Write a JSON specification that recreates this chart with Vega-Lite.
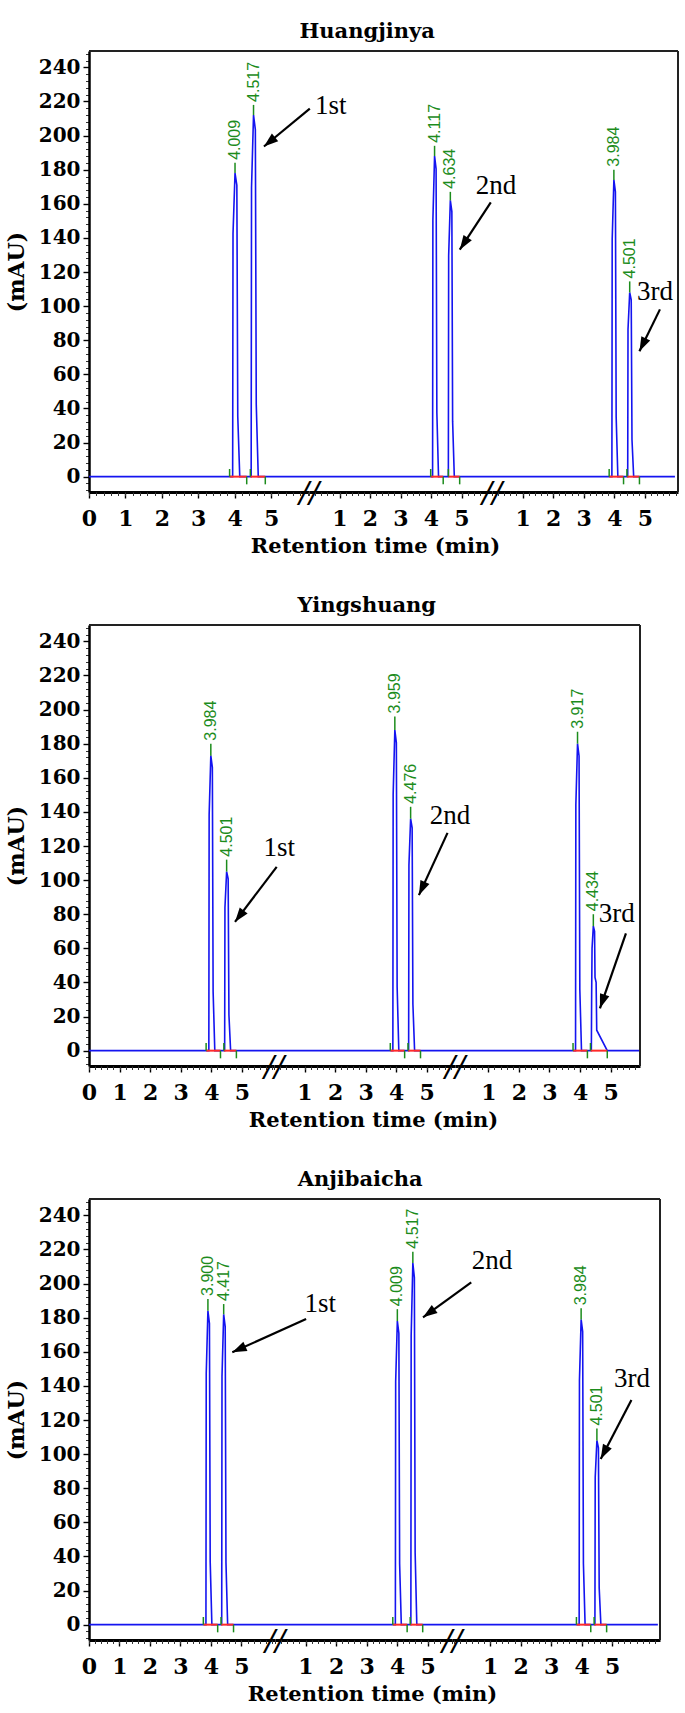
{
"$schema": "https://vega.github.io/schema/vega-lite/v6.json",
"background": "white",
"padding": {"left": 5, "top": 21, "right": 0, "bottom": 5},
"config": {"view": {"stroke": null}, "axis": {"grid": false}},
"datasets": {
"line": [
{"p":1,"s":1,"t":0,"v":0},{"p":1,"s":1,"t":3.944,"v":0},{"p":1,"s":1,"t":3.954,"v":142.4},{"p":1,"s":1,"t":4.009,"v":178},{"p":1,"s":1,"t":4.059,"v":170.9},{"p":1,"s":1,"t":4.084,"v":35.6},{"p":1,"s":1,"t":4.139,"v":0},{"p":1,"s":1,"t":4.452,"v":0},{"p":1,"s":1,"t":4.462,"v":169.6},{"p":1,"s":1,"t":4.517,"v":212},{"p":1,"s":1,"t":4.567,"v":203.5},{"p":1,"s":1,"t":4.592,"v":42.4},{"p":1,"s":1,"t":4.647,"v":0},{"p":1,"s":1,"t":6.04,"v":0},
{"p":1,"s":2,"t":0,"v":0},{"p":1,"s":2,"t":4.052,"v":0},{"p":1,"s":2,"t":4.062,"v":150.4},{"p":1,"s":2,"t":4.117,"v":188},{"p":1,"s":2,"t":4.167,"v":180.5},{"p":1,"s":2,"t":4.192,"v":37.6},{"p":1,"s":2,"t":4.247,"v":0},{"p":1,"s":2,"t":4.569,"v":0},{"p":1,"s":2,"t":4.579,"v":129.6},{"p":1,"s":2,"t":4.634,"v":162},{"p":1,"s":2,"t":4.684,"v":155.5},{"p":1,"s":2,"t":4.709,"v":32.4},{"p":1,"s":2,"t":4.764,"v":0},{"p":1,"s":2,"t":6.0,"v":0},
{"p":1,"s":3,"t":0,"v":0},{"p":1,"s":3,"t":3.919,"v":0},{"p":1,"s":3,"t":3.929,"v":139.2},{"p":1,"s":3,"t":3.984,"v":174},{"p":1,"s":3,"t":4.034,"v":167},{"p":1,"s":3,"t":4.059,"v":34.8},{"p":1,"s":3,"t":4.114,"v":0},{"p":1,"s":3,"t":4.436,"v":0},{"p":1,"s":3,"t":4.446,"v":86.4},{"p":1,"s":3,"t":4.501,"v":108},{"p":1,"s":3,"t":4.551,"v":103.7},{"p":1,"s":3,"t":4.576,"v":21.6},{"p":1,"s":3,"t":4.631,"v":0},{"p":1,"s":3,"t":5.98,"v":0},
{"p":2,"s":1,"t":0,"v":0},{"p":2,"s":1,"t":3.919,"v":0},{"p":2,"s":1,"t":3.929,"v":138.4},{"p":2,"s":1,"t":3.984,"v":173},{"p":2,"s":1,"t":4.034,"v":166.1},{"p":2,"s":1,"t":4.059,"v":34.6},{"p":2,"s":1,"t":4.114,"v":0},{"p":2,"s":1,"t":4.436,"v":0},{"p":2,"s":1,"t":4.446,"v":84},{"p":2,"s":1,"t":4.501,"v":105},{"p":2,"s":1,"t":4.551,"v":100.8},{"p":2,"s":1,"t":4.576,"v":21},{"p":2,"s":1,"t":4.631,"v":0},{"p":2,"s":1,"t":6.05,"v":0},
{"p":2,"s":2,"t":0,"v":0},{"p":2,"s":2,"t":3.894,"v":0},{"p":2,"s":2,"t":3.904,"v":150.4},{"p":2,"s":2,"t":3.959,"v":188},{"p":2,"s":2,"t":4.009,"v":180.5},{"p":2,"s":2,"t":4.034,"v":37.6},{"p":2,"s":2,"t":4.089,"v":0},{"p":2,"s":2,"t":4.411,"v":0},{"p":2,"s":2,"t":4.421,"v":108.8},{"p":2,"s":2,"t":4.476,"v":136},{"p":2,"s":2,"t":4.526,"v":130.6},{"p":2,"s":2,"t":4.551,"v":27.2},{"p":2,"s":2,"t":4.606,"v":0},{"p":2,"s":2,"t":5.93,"v":0},
{"p":2,"s":3,"t":-0.09,"v":0},{"p":2,"s":3,"t":3.852,"v":0},{"p":2,"s":3,"t":3.862,"v":144},{"p":2,"s":3,"t":3.917,"v":180},{"p":2,"s":3,"t":3.967,"v":172.8},{"p":2,"s":3,"t":3.992,"v":36},{"p":2,"s":3,"t":4.047,"v":0},{"p":2,"s":3,"t":4.369,"v":0},{"p":2,"s":3,"t":4.379,"v":33},{"p":2,"s":3,"t":4.392,"v":60},{"p":2,"s":3,"t":4.434,"v":73},{"p":2,"s":3,"t":4.474,"v":70},{"p":2,"s":3,"t":4.489,"v":43},{"p":2,"s":3,"t":4.525,"v":40},{"p":2,"s":3,"t":4.545,"v":12},{"p":2,"s":3,"t":4.89,"v":0},{"p":2,"s":3,"t":5.93,"v":0},
{"p":3,"s":1,"t":0,"v":0},{"p":3,"s":1,"t":3.835,"v":0},{"p":3,"s":1,"t":3.845,"v":147.2},{"p":3,"s":1,"t":3.9,"v":184},{"p":3,"s":1,"t":3.95,"v":176.6},{"p":3,"s":1,"t":3.975,"v":36.8},{"p":3,"s":1,"t":4.03,"v":0},{"p":3,"s":1,"t":4.352,"v":0},{"p":3,"s":1,"t":4.362,"v":145.6},{"p":3,"s":1,"t":4.417,"v":182},{"p":3,"s":1,"t":4.467,"v":174.7},{"p":3,"s":1,"t":4.492,"v":36.4},{"p":3,"s":1,"t":4.547,"v":0},{"p":3,"s":1,"t":6.1,"v":0},
{"p":3,"s":2,"t":0,"v":0},{"p":3,"s":2,"t":3.944,"v":0},{"p":3,"s":2,"t":3.954,"v":142.4},{"p":3,"s":2,"t":4.009,"v":178},{"p":3,"s":2,"t":4.059,"v":170.9},{"p":3,"s":2,"t":4.084,"v":35.6},{"p":3,"s":2,"t":4.139,"v":0},{"p":3,"s":2,"t":4.452,"v":0},{"p":3,"s":2,"t":4.462,"v":169.6},{"p":3,"s":2,"t":4.517,"v":212},{"p":3,"s":2,"t":4.567,"v":203.5},{"p":3,"s":2,"t":4.592,"v":42.4},{"p":3,"s":2,"t":4.647,"v":0},{"p":3,"s":2,"t":5.8,"v":0},
{"p":3,"s":3,"t":-0.25,"v":0},{"p":3,"s":3,"t":3.919,"v":0},{"p":3,"s":3,"t":3.929,"v":143.2},{"p":3,"s":3,"t":3.984,"v":179},{"p":3,"s":3,"t":4.034,"v":171.8},{"p":3,"s":3,"t":4.059,"v":35.8},{"p":3,"s":3,"t":4.114,"v":0},{"p":3,"s":3,"t":4.436,"v":0},{"p":3,"s":3,"t":4.446,"v":86.4},{"p":3,"s":3,"t":4.501,"v":108},{"p":3,"s":3,"t":4.551,"v":103.7},{"p":3,"s":3,"t":4.576,"v":21.6},{"p":3,"s":3,"t":4.631,"v":0},{"p":3,"s":3,"t":6.5,"v":0}
],
"peaks": [
{"p":1,"s":1,"t":4.009,"h":178,"g":184,"lab":"4.009"},{"p":1,"s":1,"t":4.517,"h":212,"g":218,"lab":"4.517"},
{"p":1,"s":2,"t":4.117,"h":188,"g":194,"lab":"4.117"},{"p":1,"s":2,"t":4.634,"h":162,"g":167,"lab":"4.634"},
{"p":1,"s":3,"t":3.984,"h":174,"g":180,"lab":"3.984"},{"p":1,"s":3,"t":4.501,"h":108,"g":114.5,"lab":"4.501"},
{"p":2,"s":1,"t":3.984,"h":173,"g":180,"lab":"3.984"},{"p":2,"s":1,"t":4.501,"h":105,"g":112,"lab":"4.501"},
{"p":2,"s":2,"t":3.959,"h":188,"g":196,"lab":"3.959"},{"p":2,"s":2,"t":4.476,"h":136,"g":143,"lab":"4.476"},
{"p":2,"s":3,"t":3.917,"h":180,"g":187,"lab":"3.917"},{"p":2,"s":3,"t":4.434,"h":73,"g":80,"lab":"4.434"},
{"p":3,"s":1,"t":3.9,"h":184,"g":191,"lab":"3.900"},{"p":3,"s":1,"t":4.417,"h":182,"g":188,"lab":"4.417"},
{"p":3,"s":2,"t":4.009,"h":178,"g":185,"lab":"4.009"},{"p":3,"s":2,"t":4.517,"h":212,"g":218.7,"lab":"4.517"},
{"p":3,"s":3,"t":3.984,"h":179,"g":185.5,"lab":"3.984"},{"p":3,"s":3,"t":4.501,"h":108,"g":115,"lab":"4.501"}
],
"integ": [
{"p":1,"s":1,"a":3.86,"b":4.33},{"p":1,"s":1,"a":4.43,"b":4.84},
{"p":1,"s":2,"a":3.99,"b":4.4},{"p":1,"s":2,"a":4.57,"b":4.94},
{"p":1,"s":3,"a":3.83,"b":4.3},{"p":1,"s":3,"a":4.41,"b":4.82},
{"p":2,"s":1,"a":3.83,"b":4.3},{"p":2,"s":1,"a":4.41,"b":4.82},
{"p":2,"s":2,"a":3.81,"b":4.28},{"p":2,"s":2,"a":4.39,"b":4.8},
{"p":2,"s":3,"a":3.77,"b":4.24},{"p":2,"s":3,"a":4.34,"b":4.89},
{"p":3,"s":1,"a":3.75,"b":4.22},{"p":3,"s":1,"a":4.33,"b":4.74},
{"p":3,"s":2,"a":3.86,"b":4.33},{"p":3,"s":2,"a":4.43,"b":4.84},
{"p":3,"s":3,"a":3.83,"b":4.3},{"p":3,"s":3,"a":4.41,"b":4.82}
],
"notes": [
{"p":1,"s":1,"x1":6.063,"y1":215.8,"x2":4.803,"y2":193.6,"tx":6.64,"ty":217.6,"lab":"1st"},
{"p":1,"s":2,"x1":5.96,"y1":160.8,"x2":4.944,"y2":133.1,"tx":6.13,"ty":170.7,"lab":"2nd"},
{"p":1,"s":3,"x1":5.49,"y1":98.1,"x2":4.82,"y2":73.5,"tx":5.33,"ty":108.1,"lab":"3rd"},
{"p":2,"s":1,"x1":6.138,"y1":107.8,"x2":4.774,"y2":75.5,"tx":6.22,"ty":118.7,"lab":"1st"},
{"p":2,"s":2,"x1":5.685,"y1":127.7,"x2":4.748,"y2":91.2,"tx":5.763,"ty":137.5,"lab":"2nd"},
{"p":2,"s":3,"x1":5.5,"y1":68.8,"x2":4.65,"y2":24.8,"tx":5.196,"ty":80.1,"lab":"3rd"},
{"p":3,"s":1,"x1":7.12,"y1":179.2,"x2":4.7,"y2":159.7,"tx":7.58,"ty":188.1,"lab":"1st"},
{"p":3,"s":2,"x1":6.43,"y1":200.7,"x2":4.85,"y2":180.2,"tx":7.11,"ty":213,"lab":"2nd"},
{"p":3,"s":3,"x1":5.633,"y1":131.8,"x2":4.626,"y2":97.2,"tx":5.65,"ty":143.9,"lab":"3rd"}
]
},
"spacing": 39,
"vconcat": [
{"title": {"text": "Huangjinya", "font": "DejaVu Serif", "fontSize": 21, "fontWeight": "bold", "color": "black", "anchor": "middle", "frame": "bounds", "dx": 25, "offset": 8},
 "spacing": 0, "bounds": "flush",
 "hconcat": [
 {"width": 220, "height": 441, "resolve": {"axis": {"x": "independent", "y": "independent"}}, "layer": [
  {"data": {"values": [{}]}, "mark": {"type": "rule", "color": "#222222", "strokeWidth": 2}, "encoding": {"y": {"datum": 249.6, "type": "quantitative", "axis": {"orient": "left", "values": [-8,-4,0,4,8,12,16,20,24,28,32,36,40,44,48,52,56,60,64,68,72,76,80,84,88,92,96,100,104,108,112,116,120,124,128,132,136,140,144,148,152,156,160,164,168,172,176,180,184,188,192,196,200,204,208,212,216,220,224,228,232,236,240,244,248], "labels": false, "domain": false, "ticks": true, "tickSize": 3.5, "tickColor": "#333333", "tickWidth": 1, "title": null, "grid": false}}}},
  {"data": {"name": "line"}, "transform": [{"filter": "datum.p==1&&datum.s==1"}], "mark": {"type": "line", "color": "#1414f0", "strokeWidth": 1.6},
   "encoding": {"x": {"field": "t", "type": "quantitative", "scale": {"domain": [0, 6.04], "nice": false, "zero": false},
     "axis": {"orient": "bottom", "values": [0,1,2,3,4,5], "format": "d", "title": null, "domainColor": "black", "domainWidth": 3, "tickColor": "black", "tickWidth": 1.4, "tickSize": 6, "labelFont": "DejaVu Serif", "labelFontSize": 22, "labelFontWeight": "bold", "labelColor": "black", "labelPadding": 10, "labelFlush": false, "labelOverlap": false, "grid": false}},
    "y": {"field": "v", "type": "quantitative", "scale": {"domain": [-9, 249.6], "nice": false, "zero": false},
     "axis": {"orient": "left", "values": [0,20,40,60,80,100,120,140,160,180,200,220,240], "format": "d", "title": "(mAU)", "titleFont": "DejaVu Serif", "titleFontSize": 22, "titleFontWeight": "bold", "titleColor": "black", "titlePadding": 10, "domainColor": "black", "domainWidth": 2.5, "tickColor": "black", "tickWidth": 1.4, "tickSize": 6, "labelFont": "DejaVu Serif", "labelFontSize": 20, "labelFontWeight": "bold", "labelColor": "black", "labelPadding": 3, "labelOverlap": false, "labelFlush": false, "grid": false}}}},
  {"data": {"name": "integ"}, "transform": [{"filter": "datum.p==1&&datum.s==1"}], "mark": {"type": "rule", "color": "#ff2a2a", "strokeWidth": 2}, "encoding": {"x": {"field": "a", "type": "quantitative", "axis": {"orient": "bottom", "values": [0,0.2,0.4,0.6,0.8,1,1.2,1.4,1.6,1.8,2,2.2,2.4,2.6,2.8,3,3.2,3.4,3.6,3.8,4,4.2,4.4,4.6,4.8,5,5.2,5.4,5.6,5.8,6], "labels": false, "domain": false, "ticks": true, "tickSize": 3.5, "tickColor": "#333333", "tickWidth": 1, "title": null, "grid": false}}, "x2": {"field": "b"}, "y": {"datum": 0, "type": "quantitative", "axis": null}}},
  {"data": {"name": "integ"}, "transform": [{"filter": "datum.p==1&&datum.s==1"}], "mark": {"type": "rule", "color": "#1c8c1c", "strokeWidth": 1.5}, "encoding": {"x": {"field": "a", "type": "quantitative", "axis": null}, "y": {"datum": 0, "type": "quantitative", "axis": null}, "y2": {"datum": 4.5}}},
  {"data": {"name": "integ"}, "transform": [{"filter": "datum.p==1&&datum.s==1"}], "mark": {"type": "rule", "color": "#1c8c1c", "strokeWidth": 1.5}, "encoding": {"x": {"field": "b", "type": "quantitative", "axis": null}, "y": {"datum": 0, "type": "quantitative", "axis": null}, "y2": {"datum": -4.5}}},
  {"data": {"name": "peaks"}, "transform": [{"filter": "datum.p==1&&datum.s==1"}], "mark": {"type": "rule", "color": "#1c8c1c", "strokeWidth": 1.5}, "encoding": {"x": {"field": "t", "type": "quantitative", "axis": null}, "y": {"field": "h", "type": "quantitative", "axis": null}, "y2": {"field": "g"}}},
  {"data": {"name": "peaks"}, "transform": [{"filter": "datum.p==1&&datum.s==1"}], "mark": {"type": "text", "angle": 270, "align": "left", "baseline": "middle", "dx": 3, "font": "Liberation Sans", "fontSize": 16, "color": "#1c8c1c"}, "encoding": {"x": {"field": "t", "type": "quantitative", "axis": null}, "y": {"field": "g", "type": "quantitative", "axis": null}, "text": {"field": "lab"}}},
  {"data": {"name": "notes"}, "transform": [{"filter": "datum.p==1&&datum.s==1"}], "mark": {"type": "rule", "color": "black", "strokeWidth": 2.2}, "encoding": {"x": {"field": "x1", "type": "quantitative", "axis": null}, "y": {"field": "y1", "type": "quantitative", "axis": null}, "x2": {"field": "x2"}, "y2": {"field": "y2"}}},
  {"data": {"name": "notes"}, "transform": [{"filter": "datum.p==1&&datum.s==1"}], "mark": {"type": "point", "shape": "M0,0L-0.55,1.6L0.55,1.6Z", "filled": true, "color": "black", "opacity": 1, "size": 324, "angle": 230.4}, "encoding": {"x": {"field": "x2", "type": "quantitative", "axis": null}, "y": {"field": "y2", "type": "quantitative", "axis": null}}},
  {"data": {"name": "notes"}, "transform": [{"filter": "datum.p==1&&datum.s==1"}], "mark": {"type": "text", "font": "Liberation Serif", "fontSize": 27, "align": "center", "baseline": "middle", "color": "black"}, "encoding": {"x": {"field": "tx", "type": "quantitative", "axis": null}, "y": {"field": "ty", "type": "quantitative", "axis": null}, "text": {"field": "lab"}}},
  {"data": {"values": [{}]}, "mark": {"type": "text", "text": "//", "font": "Liberation Serif", "fontSize": 36, "fontWeight": "bold", "fontStyle": "italic", "align": "center", "baseline": "middle", "dy": 2, "color": "black"}, "encoding": {"x": {"datum": 6.04, "type": "quantitative", "axis": null}, "y": {"datum": -9, "type": "quantitative", "axis": null}}}
 ]},
 {"width": 183, "height": 441, "resolve": {"axis": {"x": "independent", "y": "independent"}}, "layer": [
  {"data": {"values": [{}]}, "mark": {"type": "rule", "color": "#222222", "strokeWidth": 2}, "encoding": {"y": {"datum": 249.6, "type": "quantitative", "axis": null}}},
  {"data": {"name": "line"}, "transform": [{"filter": "datum.p==1&&datum.s==2"}], "mark": {"type": "line", "color": "#1414f0", "strokeWidth": 1.6},
   "encoding": {"x": {"field": "t", "type": "quantitative", "scale": {"domain": [0, 6.0], "nice": false, "zero": false},
     "axis": {"orient": "bottom", "values": [1,2,3,4,5], "format": "d", "title": "Retention time (min)", "titleX": 66, "titleAlign": "center", "titleFont": "DejaVu Serif", "titleFontSize": 21, "titleFontWeight": "bold", "titleColor": "black", "titlePadding": 6, "domainColor": "black", "domainWidth": 3, "tickColor": "black", "tickWidth": 1.4, "tickSize": 6, "labelFont": "DejaVu Serif", "labelFontSize": 22, "labelFontWeight": "bold", "labelColor": "black", "labelPadding": 10, "labelFlush": false, "labelOverlap": false, "grid": false}},
    "y": {"field": "v", "type": "quantitative", "scale": {"domain": [-9, 249.6], "nice": false, "zero": false}, "axis": null}}},
  {"data": {"name": "integ"}, "transform": [{"filter": "datum.p==1&&datum.s==2"}], "mark": {"type": "rule", "color": "#ff2a2a", "strokeWidth": 2}, "encoding": {"x": {"field": "a", "type": "quantitative", "axis": {"orient": "bottom", "values": [0,0.2,0.4,0.6,0.8,1,1.2,1.4,1.6,1.8,2,2.2,2.4,2.6,2.8,3,3.2,3.4,3.6,3.8,4,4.2,4.4,4.6,4.8,5,5.2,5.4,5.6,5.8,6], "labels": false, "domain": false, "ticks": true, "tickSize": 3.5, "tickColor": "#333333", "tickWidth": 1, "title": null, "grid": false}}, "x2": {"field": "b"}, "y": {"datum": 0, "type": "quantitative", "axis": null}}},
  {"data": {"name": "integ"}, "transform": [{"filter": "datum.p==1&&datum.s==2"}], "mark": {"type": "rule", "color": "#1c8c1c", "strokeWidth": 1.5}, "encoding": {"x": {"field": "a", "type": "quantitative", "axis": null}, "y": {"datum": 0, "type": "quantitative", "axis": null}, "y2": {"datum": 4.5}}},
  {"data": {"name": "integ"}, "transform": [{"filter": "datum.p==1&&datum.s==2"}], "mark": {"type": "rule", "color": "#1c8c1c", "strokeWidth": 1.5}, "encoding": {"x": {"field": "b", "type": "quantitative", "axis": null}, "y": {"datum": 0, "type": "quantitative", "axis": null}, "y2": {"datum": -4.5}}},
  {"data": {"name": "peaks"}, "transform": [{"filter": "datum.p==1&&datum.s==2"}], "mark": {"type": "rule", "color": "#1c8c1c", "strokeWidth": 1.5}, "encoding": {"x": {"field": "t", "type": "quantitative", "axis": null}, "y": {"field": "h", "type": "quantitative", "axis": null}, "y2": {"field": "g"}}},
  {"data": {"name": "peaks"}, "transform": [{"filter": "datum.p==1&&datum.s==2"}], "mark": {"type": "text", "angle": 270, "align": "left", "baseline": "middle", "dx": 3, "font": "Liberation Sans", "fontSize": 16, "color": "#1c8c1c"}, "encoding": {"x": {"field": "t", "type": "quantitative", "axis": null}, "y": {"field": "g", "type": "quantitative", "axis": null}, "text": {"field": "lab"}}},
  {"data": {"name": "notes"}, "transform": [{"filter": "datum.p==1&&datum.s==2"}], "mark": {"type": "rule", "color": "black", "strokeWidth": 2.2}, "encoding": {"x": {"field": "x1", "type": "quantitative", "axis": null}, "y": {"field": "y1", "type": "quantitative", "axis": null}, "x2": {"field": "x2"}, "y2": {"field": "y2"}}},
  {"data": {"name": "notes"}, "transform": [{"filter": "datum.p==1&&datum.s==2"}], "mark": {"type": "point", "shape": "M0,0L-0.55,1.6L0.55,1.6Z", "filled": true, "color": "black", "opacity": 1, "size": 324, "angle": 213.2}, "encoding": {"x": {"field": "x2", "type": "quantitative", "axis": null}, "y": {"field": "y2", "type": "quantitative", "axis": null}}},
  {"data": {"name": "notes"}, "transform": [{"filter": "datum.p==1&&datum.s==2"}], "mark": {"type": "text", "font": "Liberation Serif", "fontSize": 27, "align": "center", "baseline": "middle", "color": "black"}, "encoding": {"x": {"field": "tx", "type": "quantitative", "axis": null}, "y": {"field": "ty", "type": "quantitative", "axis": null}, "text": {"field": "lab"}}},
  {"data": {"values": [{}]}, "mark": {"type": "text", "text": "//", "font": "Liberation Serif", "fontSize": 36, "fontWeight": "bold", "fontStyle": "italic", "align": "center", "baseline": "middle", "dy": 2, "color": "black"}, "encoding": {"x": {"datum": 6.0, "type": "quantitative", "axis": null}, "y": {"datum": -9, "type": "quantitative", "axis": null}}}
 ]},
 {"width": 186, "height": 441, "resolve": {"axis": {"x": "independent", "y": "independent"}}, "layer": [
  {"data": {"values": [{}]}, "mark": {"type": "rule", "color": "#222222", "strokeWidth": 2}, "encoding": {"y": {"datum": 249.6, "type": "quantitative", "axis": null}}},
  {"data": {"values": [{}]}, "mark": {"type": "rule", "color": "#222222", "strokeWidth": 2}, "encoding": {"x": {"datum": 6.08, "type": "quantitative", "axis": null}}},
  {"data": {"name": "line"}, "transform": [{"filter": "datum.p==1&&datum.s==3"}], "mark": {"type": "line", "color": "#1414f0", "strokeWidth": 1.6},
   "encoding": {"x": {"field": "t", "type": "quantitative", "scale": {"domain": [0, 6.08], "nice": false, "zero": false},
     "axis": {"orient": "bottom", "values": [1,2,3,4,5], "format": "d", "title": null, "domainColor": "black", "domainWidth": 3, "tickColor": "black", "tickWidth": 1.4, "tickSize": 6, "labelFont": "DejaVu Serif", "labelFontSize": 22, "labelFontWeight": "bold", "labelColor": "black", "labelPadding": 10, "labelFlush": false, "labelOverlap": false, "grid": false}},
    "y": {"field": "v", "type": "quantitative", "scale": {"domain": [-9, 249.6], "nice": false, "zero": false}, "axis": null}}},
  {"data": {"name": "integ"}, "transform": [{"filter": "datum.p==1&&datum.s==3"}], "mark": {"type": "rule", "color": "#ff2a2a", "strokeWidth": 2}, "encoding": {"x": {"field": "a", "type": "quantitative", "axis": {"orient": "bottom", "values": [0,0.2,0.4,0.6,0.8,1,1.2,1.4,1.6,1.8,2,2.2,2.4,2.6,2.8,3,3.2,3.4,3.6,3.8,4,4.2,4.4,4.6,4.8,5,5.2,5.4,5.6,5.8,6], "labels": false, "domain": false, "ticks": true, "tickSize": 3.5, "tickColor": "#333333", "tickWidth": 1, "title": null, "grid": false}}, "x2": {"field": "b"}, "y": {"datum": 0, "type": "quantitative", "axis": null}}},
  {"data": {"name": "integ"}, "transform": [{"filter": "datum.p==1&&datum.s==3"}], "mark": {"type": "rule", "color": "#1c8c1c", "strokeWidth": 1.5}, "encoding": {"x": {"field": "a", "type": "quantitative", "axis": null}, "y": {"datum": 0, "type": "quantitative", "axis": null}, "y2": {"datum": 4.5}}},
  {"data": {"name": "integ"}, "transform": [{"filter": "datum.p==1&&datum.s==3"}], "mark": {"type": "rule", "color": "#1c8c1c", "strokeWidth": 1.5}, "encoding": {"x": {"field": "b", "type": "quantitative", "axis": null}, "y": {"datum": 0, "type": "quantitative", "axis": null}, "y2": {"datum": -4.5}}},
  {"data": {"name": "peaks"}, "transform": [{"filter": "datum.p==1&&datum.s==3"}], "mark": {"type": "rule", "color": "#1c8c1c", "strokeWidth": 1.5}, "encoding": {"x": {"field": "t", "type": "quantitative", "axis": null}, "y": {"field": "h", "type": "quantitative", "axis": null}, "y2": {"field": "g"}}},
  {"data": {"name": "peaks"}, "transform": [{"filter": "datum.p==1&&datum.s==3"}], "mark": {"type": "text", "angle": 270, "align": "left", "baseline": "middle", "dx": 3, "font": "Liberation Sans", "fontSize": 16, "color": "#1c8c1c"}, "encoding": {"x": {"field": "t", "type": "quantitative", "axis": null}, "y": {"field": "g", "type": "quantitative", "axis": null}, "text": {"field": "lab"}}},
  {"data": {"name": "notes"}, "transform": [{"filter": "datum.p==1&&datum.s==3"}], "mark": {"type": "rule", "color": "black", "strokeWidth": 2.2}, "encoding": {"x": {"field": "x1", "type": "quantitative", "axis": null}, "y": {"field": "y1", "type": "quantitative", "axis": null}, "x2": {"field": "x2"}, "y2": {"field": "y2"}}},
  {"data": {"name": "notes"}, "transform": [{"filter": "datum.p==1&&datum.s==3"}], "mark": {"type": "point", "shape": "M0,0L-0.55,1.6L0.55,1.6Z", "filled": true, "color": "black", "opacity": 1, "size": 324, "angle": 206}, "encoding": {"x": {"field": "x2", "type": "quantitative", "axis": null}, "y": {"field": "y2", "type": "quantitative", "axis": null}}},
  {"data": {"name": "notes"}, "transform": [{"filter": "datum.p==1&&datum.s==3"}], "mark": {"type": "text", "font": "Liberation Serif", "fontSize": 27, "align": "center", "baseline": "middle", "color": "black"}, "encoding": {"x": {"field": "tx", "type": "quantitative", "axis": null}, "y": {"field": "ty", "type": "quantitative", "axis": null}, "text": {"field": "lab"}}}
 ]}
 ]},
{"title": {"text": "Yingshuang", "font": "DejaVu Serif", "fontSize": 21, "fontWeight": "bold", "color": "black", "anchor": "middle", "frame": "bounds", "dx": 43, "offset": 8},
 "spacing": 0, "bounds": "flush",
 "hconcat": [
 {"width": 185, "height": 441, "resolve": {"axis": {"x": "independent", "y": "independent"}}, "layer": [
  {"data": {"values": [{}]}, "mark": {"type": "rule", "color": "#222222", "strokeWidth": 2}, "encoding": {"y": {"datum": 249.6, "type": "quantitative", "axis": {"orient": "left", "values": [-8,-4,0,4,8,12,16,20,24,28,32,36,40,44,48,52,56,60,64,68,72,76,80,84,88,92,96,100,104,108,112,116,120,124,128,132,136,140,144,148,152,156,160,164,168,172,176,180,184,188,192,196,200,204,208,212,216,220,224,228,232,236,240,244,248], "labels": false, "domain": false, "ticks": true, "tickSize": 3.5, "tickColor": "#333333", "tickWidth": 1, "title": null, "grid": false}}}},
  {"data": {"name": "line"}, "transform": [{"filter": "datum.p==2&&datum.s==1"}], "mark": {"type": "line", "color": "#1414f0", "strokeWidth": 1.6},
   "encoding": {"x": {"field": "t", "type": "quantitative", "scale": {"domain": [0, 6.05], "nice": false, "zero": false},
     "axis": {"orient": "bottom", "values": [0,1,2,3,4,5], "format": "d", "title": null, "domainColor": "black", "domainWidth": 3, "tickColor": "black", "tickWidth": 1.4, "tickSize": 6, "labelFont": "DejaVu Serif", "labelFontSize": 22, "labelFontWeight": "bold", "labelColor": "black", "labelPadding": 10, "labelFlush": false, "labelOverlap": false, "grid": false}},
    "y": {"field": "v", "type": "quantitative", "scale": {"domain": [-9, 249.6], "nice": false, "zero": false},
     "axis": {"orient": "left", "values": [0,20,40,60,80,100,120,140,160,180,200,220,240], "format": "d", "title": "(mAU)", "titleFont": "DejaVu Serif", "titleFontSize": 22, "titleFontWeight": "bold", "titleColor": "black", "titlePadding": 10, "domainColor": "black", "domainWidth": 2.5, "tickColor": "black", "tickWidth": 1.4, "tickSize": 6, "labelFont": "DejaVu Serif", "labelFontSize": 20, "labelFontWeight": "bold", "labelColor": "black", "labelPadding": 3, "labelOverlap": false, "labelFlush": false, "grid": false}}}},
  {"data": {"name": "integ"}, "transform": [{"filter": "datum.p==2&&datum.s==1"}], "mark": {"type": "rule", "color": "#ff2a2a", "strokeWidth": 2}, "encoding": {"x": {"field": "a", "type": "quantitative", "axis": {"orient": "bottom", "values": [0,0.2,0.4,0.6,0.8,1,1.2,1.4,1.6,1.8,2,2.2,2.4,2.6,2.8,3,3.2,3.4,3.6,3.8,4,4.2,4.4,4.6,4.8,5,5.2,5.4,5.6,5.8,6], "labels": false, "domain": false, "ticks": true, "tickSize": 3.5, "tickColor": "#333333", "tickWidth": 1, "title": null, "grid": false}}, "x2": {"field": "b"}, "y": {"datum": 0, "type": "quantitative", "axis": null}}},
  {"data": {"name": "integ"}, "transform": [{"filter": "datum.p==2&&datum.s==1"}], "mark": {"type": "rule", "color": "#1c8c1c", "strokeWidth": 1.5}, "encoding": {"x": {"field": "a", "type": "quantitative", "axis": null}, "y": {"datum": 0, "type": "quantitative", "axis": null}, "y2": {"datum": 4.5}}},
  {"data": {"name": "integ"}, "transform": [{"filter": "datum.p==2&&datum.s==1"}], "mark": {"type": "rule", "color": "#1c8c1c", "strokeWidth": 1.5}, "encoding": {"x": {"field": "b", "type": "quantitative", "axis": null}, "y": {"datum": 0, "type": "quantitative", "axis": null}, "y2": {"datum": -4.5}}},
  {"data": {"name": "peaks"}, "transform": [{"filter": "datum.p==2&&datum.s==1"}], "mark": {"type": "rule", "color": "#1c8c1c", "strokeWidth": 1.5}, "encoding": {"x": {"field": "t", "type": "quantitative", "axis": null}, "y": {"field": "h", "type": "quantitative", "axis": null}, "y2": {"field": "g"}}},
  {"data": {"name": "peaks"}, "transform": [{"filter": "datum.p==2&&datum.s==1"}], "mark": {"type": "text", "angle": 270, "align": "left", "baseline": "middle", "dx": 3, "font": "Liberation Sans", "fontSize": 16, "color": "#1c8c1c"}, "encoding": {"x": {"field": "t", "type": "quantitative", "axis": null}, "y": {"field": "g", "type": "quantitative", "axis": null}, "text": {"field": "lab"}}},
  {"data": {"name": "notes"}, "transform": [{"filter": "datum.p==2&&datum.s==1"}], "mark": {"type": "rule", "color": "black", "strokeWidth": 2.2}, "encoding": {"x": {"field": "x1", "type": "quantitative", "axis": null}, "y": {"field": "y1", "type": "quantitative", "axis": null}, "x2": {"field": "x2"}, "y2": {"field": "y2"}}},
  {"data": {"name": "notes"}, "transform": [{"filter": "datum.p==2&&datum.s==1"}], "mark": {"type": "point", "shape": "M0,0L-0.55,1.6L0.55,1.6Z", "filled": true, "color": "black", "opacity": 1, "size": 324, "angle": 217.2}, "encoding": {"x": {"field": "x2", "type": "quantitative", "axis": null}, "y": {"field": "y2", "type": "quantitative", "axis": null}}},
  {"data": {"name": "notes"}, "transform": [{"filter": "datum.p==2&&datum.s==1"}], "mark": {"type": "text", "font": "Liberation Serif", "fontSize": 27, "align": "center", "baseline": "middle", "color": "black"}, "encoding": {"x": {"field": "tx", "type": "quantitative", "axis": null}, "y": {"field": "ty", "type": "quantitative", "axis": null}, "text": {"field": "lab"}}},
  {"data": {"values": [{}]}, "mark": {"type": "text", "text": "//", "font": "Liberation Serif", "fontSize": 36, "fontWeight": "bold", "fontStyle": "italic", "align": "center", "baseline": "middle", "dy": 2, "color": "black"}, "encoding": {"x": {"datum": 6.05, "type": "quantitative", "axis": null}, "y": {"datum": -9, "type": "quantitative", "axis": null}}}
 ]},
 {"width": 181, "height": 441, "resolve": {"axis": {"x": "independent", "y": "independent"}}, "layer": [
  {"data": {"values": [{}]}, "mark": {"type": "rule", "color": "#222222", "strokeWidth": 2}, "encoding": {"y": {"datum": 249.6, "type": "quantitative", "axis": null}}},
  {"data": {"name": "line"}, "transform": [{"filter": "datum.p==2&&datum.s==2"}], "mark": {"type": "line", "color": "#1414f0", "strokeWidth": 1.6},
   "encoding": {"x": {"field": "t", "type": "quantitative", "scale": {"domain": [0, 5.93], "nice": false, "zero": false},
     "axis": {"orient": "bottom", "values": [1,2,3,4,5], "format": "d", "title": "Retention time (min)", "titleX": 99, "titleAlign": "center", "titleFont": "DejaVu Serif", "titleFontSize": 21, "titleFontWeight": "bold", "titleColor": "black", "titlePadding": 6, "domainColor": "black", "domainWidth": 3, "tickColor": "black", "tickWidth": 1.4, "tickSize": 6, "labelFont": "DejaVu Serif", "labelFontSize": 22, "labelFontWeight": "bold", "labelColor": "black", "labelPadding": 10, "labelFlush": false, "labelOverlap": false, "grid": false}},
    "y": {"field": "v", "type": "quantitative", "scale": {"domain": [-9, 249.6], "nice": false, "zero": false}, "axis": null}}},
  {"data": {"name": "integ"}, "transform": [{"filter": "datum.p==2&&datum.s==2"}], "mark": {"type": "rule", "color": "#ff2a2a", "strokeWidth": 2}, "encoding": {"x": {"field": "a", "type": "quantitative", "axis": {"orient": "bottom", "values": [0,0.2,0.4,0.6,0.8,1,1.2,1.4,1.6,1.8,2,2.2,2.4,2.6,2.8,3,3.2,3.4,3.6,3.8,4,4.2,4.4,4.6,4.8,5,5.2,5.4,5.6,5.8], "labels": false, "domain": false, "ticks": true, "tickSize": 3.5, "tickColor": "#333333", "tickWidth": 1, "title": null, "grid": false}}, "x2": {"field": "b"}, "y": {"datum": 0, "type": "quantitative", "axis": null}}},
  {"data": {"name": "integ"}, "transform": [{"filter": "datum.p==2&&datum.s==2"}], "mark": {"type": "rule", "color": "#1c8c1c", "strokeWidth": 1.5}, "encoding": {"x": {"field": "a", "type": "quantitative", "axis": null}, "y": {"datum": 0, "type": "quantitative", "axis": null}, "y2": {"datum": 4.5}}},
  {"data": {"name": "integ"}, "transform": [{"filter": "datum.p==2&&datum.s==2"}], "mark": {"type": "rule", "color": "#1c8c1c", "strokeWidth": 1.5}, "encoding": {"x": {"field": "b", "type": "quantitative", "axis": null}, "y": {"datum": 0, "type": "quantitative", "axis": null}, "y2": {"datum": -4.5}}},
  {"data": {"name": "peaks"}, "transform": [{"filter": "datum.p==2&&datum.s==2"}], "mark": {"type": "rule", "color": "#1c8c1c", "strokeWidth": 1.5}, "encoding": {"x": {"field": "t", "type": "quantitative", "axis": null}, "y": {"field": "h", "type": "quantitative", "axis": null}, "y2": {"field": "g"}}},
  {"data": {"name": "peaks"}, "transform": [{"filter": "datum.p==2&&datum.s==2"}], "mark": {"type": "text", "angle": 270, "align": "left", "baseline": "middle", "dx": 3, "font": "Liberation Sans", "fontSize": 16, "color": "#1c8c1c"}, "encoding": {"x": {"field": "t", "type": "quantitative", "axis": null}, "y": {"field": "g", "type": "quantitative", "axis": null}, "text": {"field": "lab"}}},
  {"data": {"name": "notes"}, "transform": [{"filter": "datum.p==2&&datum.s==2"}], "mark": {"type": "rule", "color": "black", "strokeWidth": 2.2}, "encoding": {"x": {"field": "x1", "type": "quantitative", "axis": null}, "y": {"field": "y1", "type": "quantitative", "axis": null}, "x2": {"field": "x2"}, "y2": {"field": "y2"}}},
  {"data": {"name": "notes"}, "transform": [{"filter": "datum.p==2&&datum.s==2"}], "mark": {"type": "point", "shape": "M0,0L-0.55,1.6L0.55,1.6Z", "filled": true, "color": "black", "opacity": 1, "size": 324, "angle": 204.7}, "encoding": {"x": {"field": "x2", "type": "quantitative", "axis": null}, "y": {"field": "y2", "type": "quantitative", "axis": null}}},
  {"data": {"name": "notes"}, "transform": [{"filter": "datum.p==2&&datum.s==2"}], "mark": {"type": "text", "font": "Liberation Serif", "fontSize": 27, "align": "center", "baseline": "middle", "color": "black"}, "encoding": {"x": {"field": "tx", "type": "quantitative", "axis": null}, "y": {"field": "ty", "type": "quantitative", "axis": null}, "text": {"field": "lab"}}},
  {"data": {"values": [{}]}, "mark": {"type": "text", "text": "//", "font": "Liberation Serif", "fontSize": 36, "fontWeight": "bold", "fontStyle": "italic", "align": "center", "baseline": "middle", "dy": 2, "color": "black"}, "encoding": {"x": {"datum": 5.93, "type": "quantitative", "axis": null}, "y": {"datum": -9, "type": "quantitative", "axis": null}}}
 ]},
 {"width": 185, "height": 441, "resolve": {"axis": {"x": "independent", "y": "independent"}}, "layer": [
  {"data": {"values": [{}]}, "mark": {"type": "rule", "color": "#222222", "strokeWidth": 2}, "encoding": {"y": {"datum": 249.6, "type": "quantitative", "axis": null}}},
  {"data": {"values": [{}]}, "mark": {"type": "rule", "color": "#222222", "strokeWidth": 2}, "encoding": {"x": {"datum": 5.96, "type": "quantitative", "axis": null}}},
  {"data": {"name": "line"}, "transform": [{"filter": "datum.p==2&&datum.s==3"}], "mark": {"type": "line", "color": "#1414f0", "strokeWidth": 1.6},
   "encoding": {"x": {"field": "t", "type": "quantitative", "scale": {"domain": [-0.09, 5.96], "nice": false, "zero": false},
     "axis": {"orient": "bottom", "values": [1,2,3,4,5], "format": "d", "title": null, "domainColor": "black", "domainWidth": 3, "tickColor": "black", "tickWidth": 1.4, "tickSize": 6, "labelFont": "DejaVu Serif", "labelFontSize": 22, "labelFontWeight": "bold", "labelColor": "black", "labelPadding": 10, "labelFlush": false, "labelOverlap": false, "grid": false}},
    "y": {"field": "v", "type": "quantitative", "scale": {"domain": [-9, 249.6], "nice": false, "zero": false}, "axis": null}}},
  {"data": {"name": "integ"}, "transform": [{"filter": "datum.p==2&&datum.s==3"}], "mark": {"type": "rule", "color": "#ff2a2a", "strokeWidth": 2}, "encoding": {"x": {"field": "a", "type": "quantitative", "axis": {"orient": "bottom", "values": [0,0.2,0.4,0.6,0.8,1,1.2,1.4,1.6,1.8,2,2.2,2.4,2.6,2.8,3,3.2,3.4,3.6,3.8,4,4.2,4.4,4.6,4.8,5,5.2,5.4,5.6,5.8], "labels": false, "domain": false, "ticks": true, "tickSize": 3.5, "tickColor": "#333333", "tickWidth": 1, "title": null, "grid": false}}, "x2": {"field": "b"}, "y": {"datum": 0, "type": "quantitative", "axis": null}}},
  {"data": {"name": "integ"}, "transform": [{"filter": "datum.p==2&&datum.s==3"}], "mark": {"type": "rule", "color": "#1c8c1c", "strokeWidth": 1.5}, "encoding": {"x": {"field": "a", "type": "quantitative", "axis": null}, "y": {"datum": 0, "type": "quantitative", "axis": null}, "y2": {"datum": 4.5}}},
  {"data": {"name": "integ"}, "transform": [{"filter": "datum.p==2&&datum.s==3"}], "mark": {"type": "rule", "color": "#1c8c1c", "strokeWidth": 1.5}, "encoding": {"x": {"field": "b", "type": "quantitative", "axis": null}, "y": {"datum": 0, "type": "quantitative", "axis": null}, "y2": {"datum": -4.5}}},
  {"data": {"name": "peaks"}, "transform": [{"filter": "datum.p==2&&datum.s==3"}], "mark": {"type": "rule", "color": "#1c8c1c", "strokeWidth": 1.5}, "encoding": {"x": {"field": "t", "type": "quantitative", "axis": null}, "y": {"field": "h", "type": "quantitative", "axis": null}, "y2": {"field": "g"}}},
  {"data": {"name": "peaks"}, "transform": [{"filter": "datum.p==2&&datum.s==3"}], "mark": {"type": "text", "angle": 270, "align": "left", "baseline": "middle", "dx": 3, "font": "Liberation Sans", "fontSize": 16, "color": "#1c8c1c"}, "encoding": {"x": {"field": "t", "type": "quantitative", "axis": null}, "y": {"field": "g", "type": "quantitative", "axis": null}, "text": {"field": "lab"}}},
  {"data": {"name": "notes"}, "transform": [{"filter": "datum.p==2&&datum.s==3"}], "mark": {"type": "rule", "color": "black", "strokeWidth": 2.2}, "encoding": {"x": {"field": "x1", "type": "quantitative", "axis": null}, "y": {"field": "y1", "type": "quantitative", "axis": null}, "x2": {"field": "x2"}, "y2": {"field": "y2"}}},
  {"data": {"name": "notes"}, "transform": [{"filter": "datum.p==2&&datum.s==3"}], "mark": {"type": "point", "shape": "M0,0L-0.55,1.6L0.55,1.6Z", "filled": true, "color": "black", "opacity": 1, "size": 324, "angle": 199.1}, "encoding": {"x": {"field": "x2", "type": "quantitative", "axis": null}, "y": {"field": "y2", "type": "quantitative", "axis": null}}},
  {"data": {"name": "notes"}, "transform": [{"filter": "datum.p==2&&datum.s==3"}], "mark": {"type": "text", "font": "Liberation Serif", "fontSize": 27, "align": "center", "baseline": "middle", "color": "black"}, "encoding": {"x": {"field": "tx", "type": "quantitative", "axis": null}, "y": {"field": "ty", "type": "quantitative", "axis": null}, "text": {"field": "lab"}}}
 ]}
 ]},
{"title": {"text": "Anjibaicha", "font": "DejaVu Serif", "fontSize": 21, "fontWeight": "bold", "color": "black", "anchor": "middle", "frame": "bounds", "dx": 27, "offset": 8},
 "spacing": 0, "bounds": "flush",
 "hconcat": [
 {"width": 186, "height": 441, "resolve": {"axis": {"x": "independent", "y": "independent"}}, "layer": [
  {"data": {"values": [{}]}, "mark": {"type": "rule", "color": "#222222", "strokeWidth": 2}, "encoding": {"y": {"datum": 249.6, "type": "quantitative", "axis": {"orient": "left", "values": [-8,-4,0,4,8,12,16,20,24,28,32,36,40,44,48,52,56,60,64,68,72,76,80,84,88,92,96,100,104,108,112,116,120,124,128,132,136,140,144,148,152,156,160,164,168,172,176,180,184,188,192,196,200,204,208,212,216,220,224,228,232,236,240,244,248], "labels": false, "domain": false, "ticks": true, "tickSize": 3.5, "tickColor": "#333333", "tickWidth": 1, "title": null, "grid": false}}}},
  {"data": {"name": "line"}, "transform": [{"filter": "datum.p==3&&datum.s==1"}], "mark": {"type": "line", "color": "#1414f0", "strokeWidth": 1.6},
   "encoding": {"x": {"field": "t", "type": "quantitative", "scale": {"domain": [0, 6.1], "nice": false, "zero": false},
     "axis": {"orient": "bottom", "values": [0,1,2,3,4,5], "format": "d", "title": null, "domainColor": "black", "domainWidth": 3, "tickColor": "black", "tickWidth": 1.4, "tickSize": 6, "labelFont": "DejaVu Serif", "labelFontSize": 22, "labelFontWeight": "bold", "labelColor": "black", "labelPadding": 10, "labelFlush": false, "labelOverlap": false, "grid": false}},
    "y": {"field": "v", "type": "quantitative", "scale": {"domain": [-9, 249.6], "nice": false, "zero": false},
     "axis": {"orient": "left", "values": [0,20,40,60,80,100,120,140,160,180,200,220,240], "format": "d", "title": "(mAU)", "titleFont": "DejaVu Serif", "titleFontSize": 22, "titleFontWeight": "bold", "titleColor": "black", "titlePadding": 10, "domainColor": "black", "domainWidth": 2.5, "tickColor": "black", "tickWidth": 1.4, "tickSize": 6, "labelFont": "DejaVu Serif", "labelFontSize": 20, "labelFontWeight": "bold", "labelColor": "black", "labelPadding": 3, "labelOverlap": false, "labelFlush": false, "grid": false}}}},
  {"data": {"name": "integ"}, "transform": [{"filter": "datum.p==3&&datum.s==1"}], "mark": {"type": "rule", "color": "#ff2a2a", "strokeWidth": 2}, "encoding": {"x": {"field": "a", "type": "quantitative", "axis": {"orient": "bottom", "values": [0,0.2,0.4,0.6,0.8,1,1.2,1.4,1.6,1.8,2,2.2,2.4,2.6,2.8,3,3.2,3.4,3.6,3.8,4,4.2,4.4,4.6,4.8,5,5.2,5.4,5.6,5.8,6], "labels": false, "domain": false, "ticks": true, "tickSize": 3.5, "tickColor": "#333333", "tickWidth": 1, "title": null, "grid": false}}, "x2": {"field": "b"}, "y": {"datum": 0, "type": "quantitative", "axis": null}}},
  {"data": {"name": "integ"}, "transform": [{"filter": "datum.p==3&&datum.s==1"}], "mark": {"type": "rule", "color": "#1c8c1c", "strokeWidth": 1.5}, "encoding": {"x": {"field": "a", "type": "quantitative", "axis": null}, "y": {"datum": 0, "type": "quantitative", "axis": null}, "y2": {"datum": 4.5}}},
  {"data": {"name": "integ"}, "transform": [{"filter": "datum.p==3&&datum.s==1"}], "mark": {"type": "rule", "color": "#1c8c1c", "strokeWidth": 1.5}, "encoding": {"x": {"field": "b", "type": "quantitative", "axis": null}, "y": {"datum": 0, "type": "quantitative", "axis": null}, "y2": {"datum": -4.5}}},
  {"data": {"name": "peaks"}, "transform": [{"filter": "datum.p==3&&datum.s==1"}], "mark": {"type": "rule", "color": "#1c8c1c", "strokeWidth": 1.5}, "encoding": {"x": {"field": "t", "type": "quantitative", "axis": null}, "y": {"field": "h", "type": "quantitative", "axis": null}, "y2": {"field": "g"}}},
  {"data": {"name": "peaks"}, "transform": [{"filter": "datum.p==3&&datum.s==1"}], "mark": {"type": "text", "angle": 270, "align": "left", "baseline": "middle", "dx": 3, "font": "Liberation Sans", "fontSize": 16, "color": "#1c8c1c"}, "encoding": {"x": {"field": "t", "type": "quantitative", "axis": null}, "y": {"field": "g", "type": "quantitative", "axis": null}, "text": {"field": "lab"}}},
  {"data": {"name": "notes"}, "transform": [{"filter": "datum.p==3&&datum.s==1"}], "mark": {"type": "rule", "color": "black", "strokeWidth": 2.2}, "encoding": {"x": {"field": "x1", "type": "quantitative", "axis": null}, "y": {"field": "y1", "type": "quantitative", "axis": null}, "x2": {"field": "x2"}, "y2": {"field": "y2"}}},
  {"data": {"name": "notes"}, "transform": [{"filter": "datum.p==3&&datum.s==1"}], "mark": {"type": "point", "shape": "M0,0L-0.55,1.6L0.55,1.6Z", "filled": true, "color": "black", "opacity": 1, "size": 324, "angle": 245.7}, "encoding": {"x": {"field": "x2", "type": "quantitative", "axis": null}, "y": {"field": "y2", "type": "quantitative", "axis": null}}},
  {"data": {"name": "notes"}, "transform": [{"filter": "datum.p==3&&datum.s==1"}], "mark": {"type": "text", "font": "Liberation Serif", "fontSize": 27, "align": "center", "baseline": "middle", "color": "black"}, "encoding": {"x": {"field": "tx", "type": "quantitative", "axis": null}, "y": {"field": "ty", "type": "quantitative", "axis": null}, "text": {"field": "lab"}}},
  {"data": {"values": [{}]}, "mark": {"type": "text", "text": "//", "font": "Liberation Serif", "fontSize": 36, "fontWeight": "bold", "fontStyle": "italic", "align": "center", "baseline": "middle", "dy": 2, "color": "black"}, "encoding": {"x": {"datum": 6.1, "type": "quantitative", "axis": null}, "y": {"datum": -9, "type": "quantitative", "axis": null}}}
 ]},
 {"width": 177, "height": 441, "resolve": {"axis": {"x": "independent", "y": "independent"}}, "layer": [
  {"data": {"values": [{}]}, "mark": {"type": "rule", "color": "#222222", "strokeWidth": 2}, "encoding": {"y": {"datum": 249.6, "type": "quantitative", "axis": null}}},
  {"data": {"name": "line"}, "transform": [{"filter": "datum.p==3&&datum.s==2"}], "mark": {"type": "line", "color": "#1414f0", "strokeWidth": 1.6},
   "encoding": {"x": {"field": "t", "type": "quantitative", "scale": {"domain": [0, 5.8], "nice": false, "zero": false},
     "axis": {"orient": "bottom", "values": [1,2,3,4,5], "format": "d", "title": "Retention time (min)", "titleX": 97, "titleAlign": "center", "titleFont": "DejaVu Serif", "titleFontSize": 21, "titleFontWeight": "bold", "titleColor": "black", "titlePadding": 6, "domainColor": "black", "domainWidth": 3, "tickColor": "black", "tickWidth": 1.4, "tickSize": 6, "labelFont": "DejaVu Serif", "labelFontSize": 22, "labelFontWeight": "bold", "labelColor": "black", "labelPadding": 10, "labelFlush": false, "labelOverlap": false, "grid": false}},
    "y": {"field": "v", "type": "quantitative", "scale": {"domain": [-9, 249.6], "nice": false, "zero": false}, "axis": null}}},
  {"data": {"name": "integ"}, "transform": [{"filter": "datum.p==3&&datum.s==2"}], "mark": {"type": "rule", "color": "#ff2a2a", "strokeWidth": 2}, "encoding": {"x": {"field": "a", "type": "quantitative", "axis": {"orient": "bottom", "values": [0,0.2,0.4,0.6,0.8,1,1.2,1.4,1.6,1.8,2,2.2,2.4,2.6,2.8,3,3.2,3.4,3.6,3.8,4,4.2,4.4,4.6,4.8,5,5.2,5.4,5.6,5.8], "labels": false, "domain": false, "ticks": true, "tickSize": 3.5, "tickColor": "#333333", "tickWidth": 1, "title": null, "grid": false}}, "x2": {"field": "b"}, "y": {"datum": 0, "type": "quantitative", "axis": null}}},
  {"data": {"name": "integ"}, "transform": [{"filter": "datum.p==3&&datum.s==2"}], "mark": {"type": "rule", "color": "#1c8c1c", "strokeWidth": 1.5}, "encoding": {"x": {"field": "a", "type": "quantitative", "axis": null}, "y": {"datum": 0, "type": "quantitative", "axis": null}, "y2": {"datum": 4.5}}},
  {"data": {"name": "integ"}, "transform": [{"filter": "datum.p==3&&datum.s==2"}], "mark": {"type": "rule", "color": "#1c8c1c", "strokeWidth": 1.5}, "encoding": {"x": {"field": "b", "type": "quantitative", "axis": null}, "y": {"datum": 0, "type": "quantitative", "axis": null}, "y2": {"datum": -4.5}}},
  {"data": {"name": "peaks"}, "transform": [{"filter": "datum.p==3&&datum.s==2"}], "mark": {"type": "rule", "color": "#1c8c1c", "strokeWidth": 1.5}, "encoding": {"x": {"field": "t", "type": "quantitative", "axis": null}, "y": {"field": "h", "type": "quantitative", "axis": null}, "y2": {"field": "g"}}},
  {"data": {"name": "peaks"}, "transform": [{"filter": "datum.p==3&&datum.s==2"}], "mark": {"type": "text", "angle": 270, "align": "left", "baseline": "middle", "dx": 3, "font": "Liberation Sans", "fontSize": 16, "color": "#1c8c1c"}, "encoding": {"x": {"field": "t", "type": "quantitative", "axis": null}, "y": {"field": "g", "type": "quantitative", "axis": null}, "text": {"field": "lab"}}},
  {"data": {"name": "notes"}, "transform": [{"filter": "datum.p==3&&datum.s==2"}], "mark": {"type": "rule", "color": "black", "strokeWidth": 2.2}, "encoding": {"x": {"field": "x1", "type": "quantitative", "axis": null}, "y": {"field": "y1", "type": "quantitative", "axis": null}, "x2": {"field": "x2"}, "y2": {"field": "y2"}}},
  {"data": {"name": "notes"}, "transform": [{"filter": "datum.p==3&&datum.s==2"}], "mark": {"type": "point", "shape": "M0,0L-0.55,1.6L0.55,1.6Z", "filled": true, "color": "black", "opacity": 1, "size": 324, "angle": 234.1}, "encoding": {"x": {"field": "x2", "type": "quantitative", "axis": null}, "y": {"field": "y2", "type": "quantitative", "axis": null}}},
  {"data": {"name": "notes"}, "transform": [{"filter": "datum.p==3&&datum.s==2"}], "mark": {"type": "text", "font": "Liberation Serif", "fontSize": 27, "align": "center", "baseline": "middle", "color": "black"}, "encoding": {"x": {"field": "tx", "type": "quantitative", "axis": null}, "y": {"field": "ty", "type": "quantitative", "axis": null}, "text": {"field": "lab"}}},
  {"data": {"values": [{}]}, "mark": {"type": "text", "text": "//", "font": "Liberation Serif", "fontSize": 36, "fontWeight": "bold", "fontStyle": "italic", "align": "center", "baseline": "middle", "dy": 2, "color": "black"}, "encoding": {"x": {"datum": 5.8, "type": "quantitative", "axis": null}, "y": {"datum": -9, "type": "quantitative", "axis": null}}}
 ]},
 {"width": 208, "height": 441, "resolve": {"axis": {"x": "independent", "y": "independent"}}, "layer": [
  {"data": {"values": [{}]}, "mark": {"type": "rule", "color": "#222222", "strokeWidth": 2}, "encoding": {"y": {"datum": 249.6, "type": "quantitative", "axis": null}}},
  {"data": {"values": [{}]}, "mark": {"type": "rule", "color": "#222222", "strokeWidth": 2}, "encoding": {"x": {"datum": 6.57, "type": "quantitative", "axis": null}}},
  {"data": {"name": "line"}, "transform": [{"filter": "datum.p==3&&datum.s==3"}], "mark": {"type": "line", "color": "#1414f0", "strokeWidth": 1.6},
   "encoding": {"x": {"field": "t", "type": "quantitative", "scale": {"domain": [-0.25, 6.57], "nice": false, "zero": false},
     "axis": {"orient": "bottom", "values": [1,2,3,4,5], "format": "d", "title": null, "domainColor": "black", "domainWidth": 3, "tickColor": "black", "tickWidth": 1.4, "tickSize": 6, "labelFont": "DejaVu Serif", "labelFontSize": 22, "labelFontWeight": "bold", "labelColor": "black", "labelPadding": 10, "labelFlush": false, "labelOverlap": false, "grid": false}},
    "y": {"field": "v", "type": "quantitative", "scale": {"domain": [-9, 249.6], "nice": false, "zero": false}, "axis": null}}},
  {"data": {"name": "integ"}, "transform": [{"filter": "datum.p==3&&datum.s==3"}], "mark": {"type": "rule", "color": "#ff2a2a", "strokeWidth": 2}, "encoding": {"x": {"field": "a", "type": "quantitative", "axis": {"orient": "bottom", "values": [-0.2,0,0.2,0.4,0.6,0.8,1,1.2,1.4,1.6,1.8,2,2.2,2.4,2.6,2.8,3,3.2,3.4,3.6,3.8,4,4.2,4.4,4.6,4.8,5,5.2,5.4,5.6,5.8,6,6.2,6.4], "labels": false, "domain": false, "ticks": true, "tickSize": 3.5, "tickColor": "#333333", "tickWidth": 1, "title": null, "grid": false}}, "x2": {"field": "b"}, "y": {"datum": 0, "type": "quantitative", "axis": null}}},
  {"data": {"name": "integ"}, "transform": [{"filter": "datum.p==3&&datum.s==3"}], "mark": {"type": "rule", "color": "#1c8c1c", "strokeWidth": 1.5}, "encoding": {"x": {"field": "a", "type": "quantitative", "axis": null}, "y": {"datum": 0, "type": "quantitative", "axis": null}, "y2": {"datum": 4.5}}},
  {"data": {"name": "integ"}, "transform": [{"filter": "datum.p==3&&datum.s==3"}], "mark": {"type": "rule", "color": "#1c8c1c", "strokeWidth": 1.5}, "encoding": {"x": {"field": "b", "type": "quantitative", "axis": null}, "y": {"datum": 0, "type": "quantitative", "axis": null}, "y2": {"datum": -4.5}}},
  {"data": {"name": "peaks"}, "transform": [{"filter": "datum.p==3&&datum.s==3"}], "mark": {"type": "rule", "color": "#1c8c1c", "strokeWidth": 1.5}, "encoding": {"x": {"field": "t", "type": "quantitative", "axis": null}, "y": {"field": "h", "type": "quantitative", "axis": null}, "y2": {"field": "g"}}},
  {"data": {"name": "peaks"}, "transform": [{"filter": "datum.p==3&&datum.s==3"}], "mark": {"type": "text", "angle": 270, "align": "left", "baseline": "middle", "dx": 3, "font": "Liberation Sans", "fontSize": 16, "color": "#1c8c1c"}, "encoding": {"x": {"field": "t", "type": "quantitative", "axis": null}, "y": {"field": "g", "type": "quantitative", "axis": null}, "text": {"field": "lab"}}},
  {"data": {"name": "notes"}, "transform": [{"filter": "datum.p==3&&datum.s==3"}], "mark": {"type": "rule", "color": "black", "strokeWidth": 2.2}, "encoding": {"x": {"field": "x1", "type": "quantitative", "axis": null}, "y": {"field": "y1", "type": "quantitative", "axis": null}, "x2": {"field": "x2"}, "y2": {"field": "y2"}}},
  {"data": {"name": "notes"}, "transform": [{"filter": "datum.p==3&&datum.s==3"}], "mark": {"type": "point", "shape": "M0,0L-0.55,1.6L0.55,1.6Z", "filled": true, "color": "black", "opacity": 1, "size": 324, "angle": 207.5}, "encoding": {"x": {"field": "x2", "type": "quantitative", "axis": null}, "y": {"field": "y2", "type": "quantitative", "axis": null}}},
  {"data": {"name": "notes"}, "transform": [{"filter": "datum.p==3&&datum.s==3"}], "mark": {"type": "text", "font": "Liberation Serif", "fontSize": 27, "align": "center", "baseline": "middle", "color": "black"}, "encoding": {"x": {"field": "tx", "type": "quantitative", "axis": null}, "y": {"field": "ty", "type": "quantitative", "axis": null}, "text": {"field": "lab"}}}
 ]}
 ]}
]
}
